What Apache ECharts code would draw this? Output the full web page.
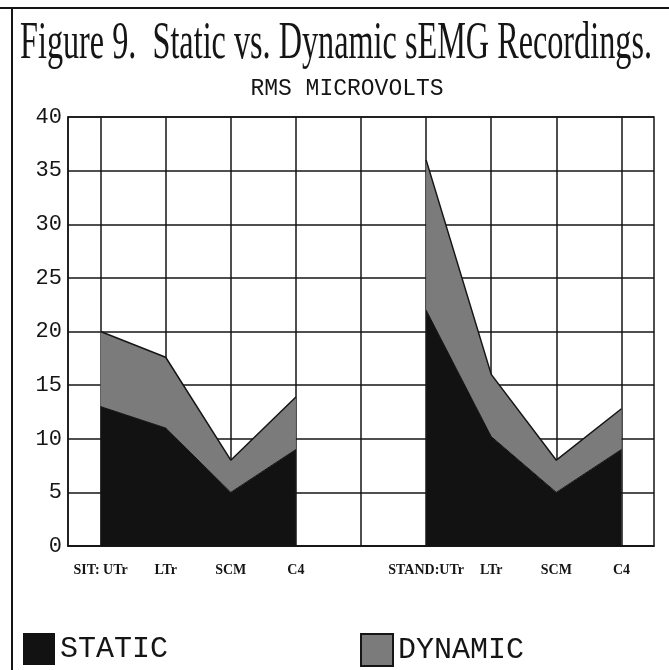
<!DOCTYPE html>
<html>
<head>
<meta charset="utf-8">
<script src="https://cdn.jsdelivr.net/npm/echarts@6/dist/echarts.min.js"></script>
<style>
  html, body { margin: 0; padding: 0; background: #fff; }
  #main { width: 669px; height: 670px; }
</style>
</head>
<body>
<div id="main"></div>
<script>
// data
var categories = ['SIT: UTr', 'LTr', 'SCM', 'C4', '', 'STAND:UTr', 'LTr', 'SCM', 'C4'];
var staticVals = [13, 11, 5, 9, '-', 22, 10.2, 5, 9];
var dynamicVals = [7, 6.6, 3, 4.9, '-', 14, 5.8, 3, 3.8];
var yTicks = { min: 0, max: 40, interval: 5 };

var titleText = 'Figure 9.  Static vs. Dynamic sEMG Recordings.';
var titleFont = '53px "Liberation Serif"';

// squeeze the title to the page width (the original uses a condensed face)
function fitScale(text, font, width) {
    var ctx = document.createElement('canvas').getContext('2d');
    ctx.font = font;
    return width / ctx.measureText(text).width;
}
var titleScale = fitScale(titleText, titleFont, 632);

var ink = '#151515';
var mono = '"Liberation Mono", monospace';

var chart = echarts.init(document.getElementById('main'));
chart.setOption({
    animation: false,
    backgroundColor: '#fff',
    grid: {
        left: 68, right: 15, top: 117, bottom: 124,
        show: true, borderColor: ink, borderWidth: 1.5, backgroundColor: 'transparent'
    },
    graphic: [
        { type: 'line', shape: { x1: 0, y1: 8, x2: 669, y2: 8 }, style: { stroke: ink, lineWidth: 2 } },
        { type: 'line', shape: { x1: 12, y1: 8, x2: 12, y2: 670 }, style: { stroke: ink, lineWidth: 2 } },
        {
            type: 'text', x: 20, y: 44, scaleX: titleScale,
            style: { text: titleText, font: titleFont, fill: ink, verticalAlign: 'middle' }
        },
        {
            type: 'text', x: 347, y: 89,
            style: { text: 'RMS MICROVOLTS', font: '23px ' + mono, fill: ink, align: 'center', verticalAlign: 'middle' }
        }
    ],
    legend: [
        {
            data: ['STATIC'], left: 18, top: 628, icon: 'rect', itemWidth: 32, itemHeight: 32, itemGap: 0,
            textStyle: { fontFamily: mono, fontSize: 30, color: ink }
        },
        {
            data: ['DYNAMIC'], left: 355, top: 628, icon: 'rect', itemWidth: 32, itemHeight: 32, itemGap: 0,
            textStyle: { fontFamily: mono, fontSize: 30, color: ink }
        }
    ],
    xAxis: {
        type: 'category',
        data: categories,
        boundaryGap: true,
        axisLine: { lineStyle: { color: ink, width: 1.5 } },
        axisTick: { show: false, alignWithLabel: true },
        axisLabel: {
            interval: 0, margin: 17, color: ink,
            fontFamily: '"Liberation Serif"', fontWeight: 'bold', fontSize: 14
        },
        splitLine: { show: true, alignWithLabel: true, interval: 0, lineStyle: { color: ink, width: 1.5 } }
    },
    yAxis: {
        type: 'value',
        min: yTicks.min, max: yTicks.max, interval: yTicks.interval,
        axisLine: { show: true, lineStyle: { color: ink, width: 1.5 } },
        axisTick: { show: false },
        axisLabel: { margin: 6, color: ink, fontFamily: mono, fontSize: 22 },
        splitLine: { lineStyle: { color: ink, width: 1.5 } }
    },
    series: [
        {
            name: 'STATIC', type: 'line', stack: 'rms', data: staticVals,
            symbol: 'none', connectNulls: false,
            itemStyle: { color: '#121212' },
            lineStyle: { color: '#121212', width: 1 },
            areaStyle: { color: '#121212', opacity: 1 }
        },
        {
            name: 'DYNAMIC', type: 'line', stack: 'rms', data: dynamicVals,
            symbol: 'none', connectNulls: false,
            itemStyle: { color: '#7b7b7b', borderColor: ink, borderWidth: 1.5 },
            lineStyle: { color: ink, width: 1.5 },
            areaStyle: { color: '#7b7b7b', opacity: 1 }
        }
    ]
});
</script>
</body>
</html>
